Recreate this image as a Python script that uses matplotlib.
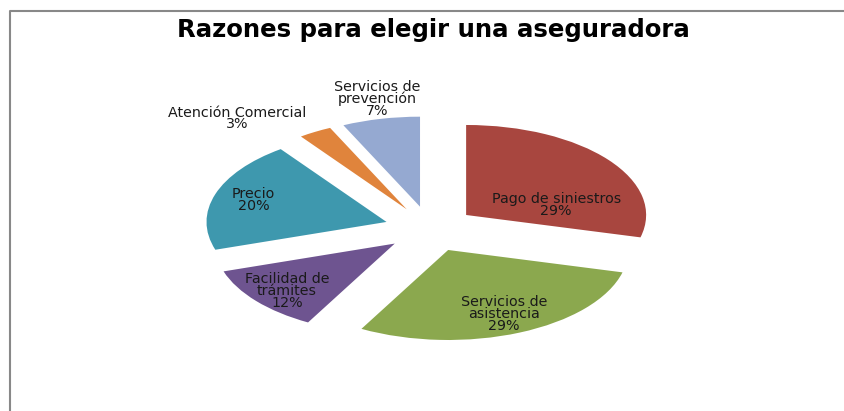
import matplotlib
matplotlib.use("Agg")
import matplotlib.pyplot as plt
import numpy as np

# Data
categories = ["Pago de siniestros", "Servicios de\nasistencia", "Facilidad de\ntrámites",
              "Precio", "Atención Comercial", "Servicios de\nprevención"]
values = [29, 29, 12, 20, 3, 7]
colors = ["#A8463F", "#8BA84E", "#6E5490", "#3E98AE", "#E0843C", "#95A9D1"]

# Label offsets inside each wedge (fraction of radius, relative to wedge vertex)
label_offsets = [(0.50, 0.11), (0.31, -0.71), (-0.60, -0.53), (-0.74, 0.24), (-0.94, 1.01), (-0.24, 1.20)]

W, H = 844, 411
fig = plt.figure(figsize=(W / 100, H / 100), dpi=100)
fig.patch.set_facecolor("white")

# Axes covering the whole figure; pie center at (430, 229) px, radii 180 x 90 px
cx, cy, rx, ry = 430, 229, 180, 90
ax = fig.add_axes([0, 0, 1, 1])
wedges, _ = ax.pie(values, colors=colors, startangle=90, counterclock=False,
                   explode=[0.254] * len(values),
                   wedgeprops=dict(linewidth=0, edgecolor="none"))
ax.set_aspect("auto")
ax.set_xlim(-cx / rx, (W - cx) / rx)
ax.set_ylim((cy - H) / ry, cy / ry)
ax.axis("off")

for w, lab, v, (dx, dy) in zip(wedges, categories, values, label_offsets):
    x0, y0 = w.center
    ax.text(x0 + dx, y0 + dy, f"{lab}\n{v}%", ha="center", va="center",
            fontsize=10.3, color="#1a1a1a", linespacing=0.8,
            family="DejaVu Sans")

fig.text(433 / W, 1 - 30 / H, "Razones para elegir una aseguradora", ha="center", va="center",
         fontsize=17.6, fontweight="bold", family="DejaVu Sans", color="black")

# Outer frame (top and left edges visible)
frame = plt.Line2D([9.5 / W, 9.5 / W, 1.0], [0.0, 1 - 11.5 / H, 1 - 11.5 / H],
                   transform=fig.transFigure, color="#888888", linewidth=1.5)
fig.add_artist(frame)

fig.savefig("out.png", dpi=100)
